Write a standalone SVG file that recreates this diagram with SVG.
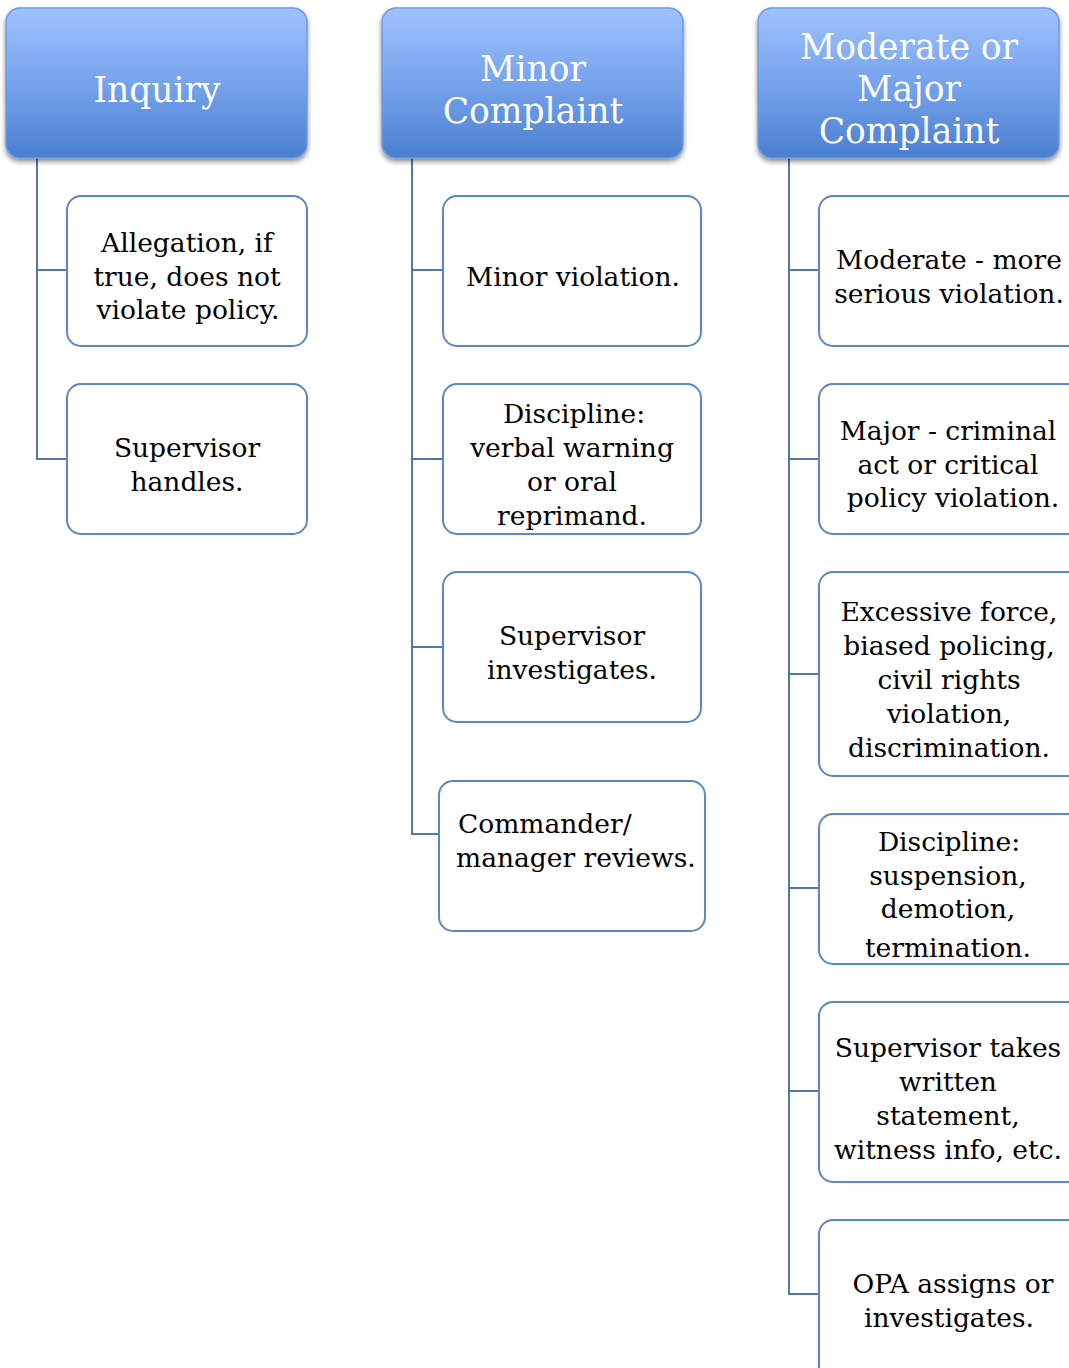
<svg xmlns="http://www.w3.org/2000/svg" width="1069" height="1368" viewBox="0 0 1069 1368">
<defs>
<linearGradient id="hg" x1="0" y1="0" x2="0" y2="1">
<stop offset="0" stop-color="#a0c2fe"/>
<stop offset="0.5" stop-color="#76a3ec"/>
<stop offset="1" stop-color="#4a7fd0"/>
</linearGradient>
<filter id="sh" x="-10%" y="-10%" width="120%" height="130%">
<feGaussianBlur in="SourceAlpha" stdDeviation="2.5"/>
<feOffset dx="0" dy="3" result="b"/>
<feComponentTransfer><feFuncA type="linear" slope="0.45"/></feComponentTransfer>
<feMerge><feMergeNode/><feMergeNode in="SourceGraphic"/></feMerge>
</filter>
</defs>
<style>
.hd{fill:url(#hg);stroke:#6f9be0;stroke-width:1.5;filter:url(#sh)}
.ht{fill:#ffffff;font-family:"DejaVu Serif","Liberation Serif",serif;font-size:34.5px;text-anchor:middle}
.bx{fill:#ffffff;stroke:#5a88c4;stroke-width:2}
.bt{fill:#000000;font-family:"DejaVu Serif","Liberation Serif",serif;font-size:26.5px;text-anchor:middle}
.st{text-anchor:start}
.cn{fill:none;stroke:#4f77b0;stroke-width:2}
</style>
<g id="connectors">
<path class="cn" d="M37 158 V459 H67 M37 270 H67"/>
<path class="cn" d="M412 158 V834 H442 M412 270 H443 M412 459 H443 M412 647 H443"/>
<path class="cn" d="M789 158 V1294 H819 M789 270 H819 M789 459 H819 M789 674 H819 M789 888 H819 M789 1091 H819"/>
</g>
<g id="inquiry">
<rect class="hd" x="6" y="8" width="301" height="150" rx="14"/>
<text class="ht" x="157" y="102">Inquiry</text>
</g>
<g id="minor">
<rect class="hd" x="382" y="8" width="301" height="150" rx="14"/>
<text class="ht" x="533" y="81">Minor</text>
<text class="ht" x="533" y="123">Complaint</text>
</g>
<g id="major">
<rect class="hd" x="758" y="8" width="301" height="150" rx="14"/>
<text class="ht" x="909" y="59">Moderate or</text>
<text class="ht" x="909" y="101">Major</text>
<text class="ht" x="909" y="143">Complaint</text>
</g>
<g id="inq1">
<rect class="bx" x="67" y="196" width="240" height="150" rx="14"/>
<text class="bt" x="187" y="252">Allegation, if</text>
<text class="bt" x="187" y="286">true, does not</text>
<text class="bt" x="188" y="319">violate policy.</text>
</g>
<g id="inq2">
<rect class="bx" x="67" y="384" width="240" height="150" rx="14"/>
<text class="bt" x="187" y="457">Supervisor</text>
<text class="bt" x="187" y="491">handles.</text>
</g>
<g id="min1">
<rect class="bx" x="443" y="196" width="258" height="150" rx="14"/>
<text class="bt" x="573" y="286">Minor violation.</text>
</g>
<g id="min2">
<rect class="bx" x="443" y="384" width="258" height="150" rx="14"/>
<text class="bt" x="574" y="423">Discipline:</text>
<text class="bt" x="572" y="457">verbal warning</text>
<text class="bt" x="572" y="491">or oral</text>
<text class="bt" x="572" y="525">reprimand.</text>
</g>
<g id="min3">
<rect class="bx" x="443" y="572" width="258" height="150" rx="14"/>
<text class="bt" x="572" y="645">Supervisor</text>
<text class="bt" x="572" y="679">investigates.</text>
</g>
<g id="min4">
<rect class="bx" x="439" y="781" width="266" height="150" rx="14"/>
<text class="bt st" x="458" y="833">Commander/</text>
<text class="bt st" x="456" y="867">manager reviews.</text>
</g>
<g id="maj1">
<rect class="bx" x="819" y="196" width="262" height="150" rx="14"/>
<text class="bt" x="949" y="269">Moderate - more</text>
<text class="bt" x="949" y="303">serious violation.</text>
</g>
<g id="maj2">
<rect class="bx" x="819" y="384" width="262" height="150" rx="14"/>
<text class="bt" x="948" y="440">Major - criminal</text>
<text class="bt" x="948" y="474">act or critical</text>
<text class="bt" x="953" y="507">policy violation.</text>
</g>
<g id="maj3">
<rect class="bx" x="819" y="572" width="262" height="204" rx="14"/>
<text class="bt" x="949" y="621">Excessive force,</text>
<text class="bt" x="949" y="655">biased policing,</text>
<text class="bt" x="949" y="689">civil rights</text>
<text class="bt" x="949" y="723">violation,</text>
<text class="bt" x="949" y="757">discrimination.</text>
</g>
<g id="maj4">
<rect class="bx" x="819" y="814" width="262" height="150" rx="14"/>
<text class="bt" x="949" y="851">Discipline:</text>
<text class="bt" x="948" y="885">suspension,</text>
<text class="bt" x="948" y="918">demotion,</text>
<text class="bt" x="948" y="957">termination.</text>
</g>
<g id="maj5">
<rect class="bx" x="819" y="1002" width="262" height="180" rx="14"/>
<text class="bt" x="948" y="1057">Supervisor takes</text>
<text class="bt" x="948" y="1091">written</text>
<text class="bt" x="948" y="1125">statement,</text>
<text class="bt" x="948" y="1159">witness info, etc.</text>
</g>
<g id="maj6">
<rect class="bx" x="819" y="1220" width="262" height="170" rx="14"/>
<text class="bt" x="953" y="1293">OPA assigns or</text>
<text class="bt" x="949" y="1327">investigates.</text>
</g>
</svg>
